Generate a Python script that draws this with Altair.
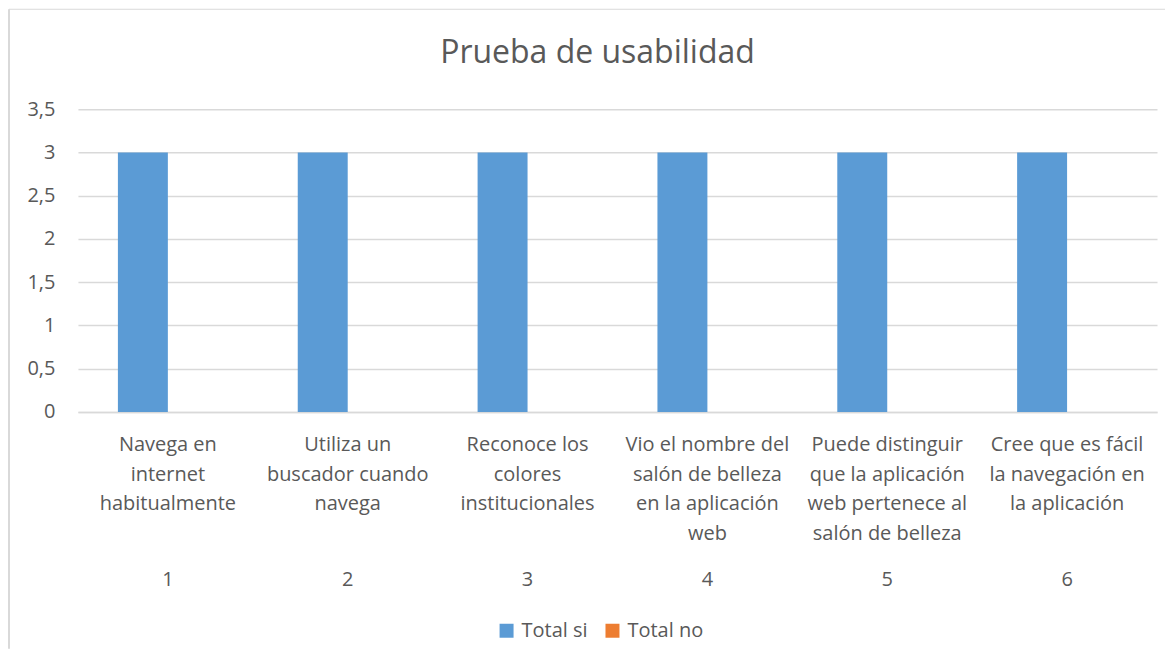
import altair as alt
import pandas as pd

# ---- data ----
categories = [
    "Navega en|internet|habitualmente",
    "Utiliza un|buscador cuando|navega",
    "Reconoce los|colores|institucionales",
    "Vio el nombre del|salón de belleza|en la aplicación|web",
    "Puede distinguir|que la aplicación|web pertenece al|salón de belleza",
    "Cree que es fácil|la navegación en|la aplicación",
]
numbers = ["1", "2", "3", "4", "5", "6"]
series = ["Total si", "Total no"]
total_si = [3, 3, 3, 3, 3, 3]
total_no = [0, 0, 0, 0, 0, 0]
colors = ["#5B9BD5", "#ED7D31"]
y_ticks = [0, 0.5, 1, 1.5, 2, 2.5, 3, 3.5]

rows = []
for cat, num, s, n in zip(categories, numbers, total_si, total_no):
    rows.append({"cat": cat, "num": num, "serie": "Total si", "valor": s})
    rows.append({"cat": cat, "num": num, "serie": "Total no", "valor": n})
df = pd.DataFrame(rows)

TXT = "#595959"
GRID = "#D9D9D9"
FONT = "Open Sans"

x_scale = alt.Scale(domain=categories, paddingInner=0, paddingOuter=0)

bars = alt.Chart(df).mark_bar().encode(
    x=alt.X(
        "cat:N",
        sort=categories,
        scale=x_scale,
        axis=alt.Axis(
            title=None,
            labelAngle=0,
            labelExpr="split(datum.label, '|')",
            labelFontSize=20,
            labelColor=TXT,
            labelFont=FONT,
            labelLineHeight=29.5,
            labelPadding=23,
            labelBaseline="top",
            labelLimit=300,
            ticks=False,
            domain=True,
            domainColor=GRID,
            domainWidth=1.5,
            grid=False,
        ),
    ),
    xOffset=alt.XOffset(
        "serie:N",
        sort=series,
        scale=alt.Scale(domain=series, paddingInner=0, paddingOuter=0.8),
    ),
    y=alt.Y(
        "valor:Q",
        scale=alt.Scale(domain=[0, 3.5], nice=False),
        axis=alt.Axis(
            title=None,
            values=y_ticks,
            format="~g",
            labelExpr="replace(datum.label, '.', ',')",
            labelFontSize=20,
            labelColor=TXT,
            labelFont=FONT,
            labelPadding=23,
            ticks=False,
            domain=False,
            grid=True,
            gridColor=GRID,
            gridWidth=1.5,
        ),
    ),
    color=alt.Color(
        "serie:N",
        sort=series,
        scale=alt.Scale(domain=series, range=colors),
        legend=alt.Legend(
            title=None,
            orient="none",
            direction="horizontal",
            legendX=419,
            legendY=512,
            symbolType="square",
            symbolSize=196,
            symbolStrokeWidth=0,
            labelFontSize=20,
            labelColor=TXT,
            labelFont=FONT,
            labelOffset=5,
            columnPadding=14,
            padding=0,
        ),
    ),
)

nums = alt.Chart(df).transform_filter(
    alt.datum.serie == "Total si"
).mark_text(
    fontSize=20, font=FONT, color=TXT, baseline="alphabetic"
).encode(
    x=alt.X("cat:N", sort=categories, scale=x_scale),
    y=alt.value(477),
    text="num:N",
)

frame_data = alt.Data(values=[{"k": 1}])
frame_left = alt.Chart(frame_data).mark_rule(color=GRID, strokeWidth=2).encode(
    x=alt.value(-69), y=alt.value(-100), y2=alt.value(540)
)
frame_top = alt.Chart(frame_data).mark_rule(color=GRID, strokeWidth=1).encode(
    x=alt.value(-69), x2=alt.value(1088), y=alt.value(-100)
)

chart = alt.layer(frame_left, frame_top, bars, nums).properties(
    width=1080,
    height=303,
    padding={"left": 0, "top": 0, "right": 0, "bottom": 0},
    title=alt.TitleParams(
        "Prueba de usabilidad",
        fontSize=32,
        font=FONT,
        fontWeight="normal",
        color=TXT,
        anchor="middle",
        dx=-20,
        offset=-62,
    ),
).configure_view(stroke=None)

chart.save("out.html", embed_options={"renderer": "svg", "actions": False})
